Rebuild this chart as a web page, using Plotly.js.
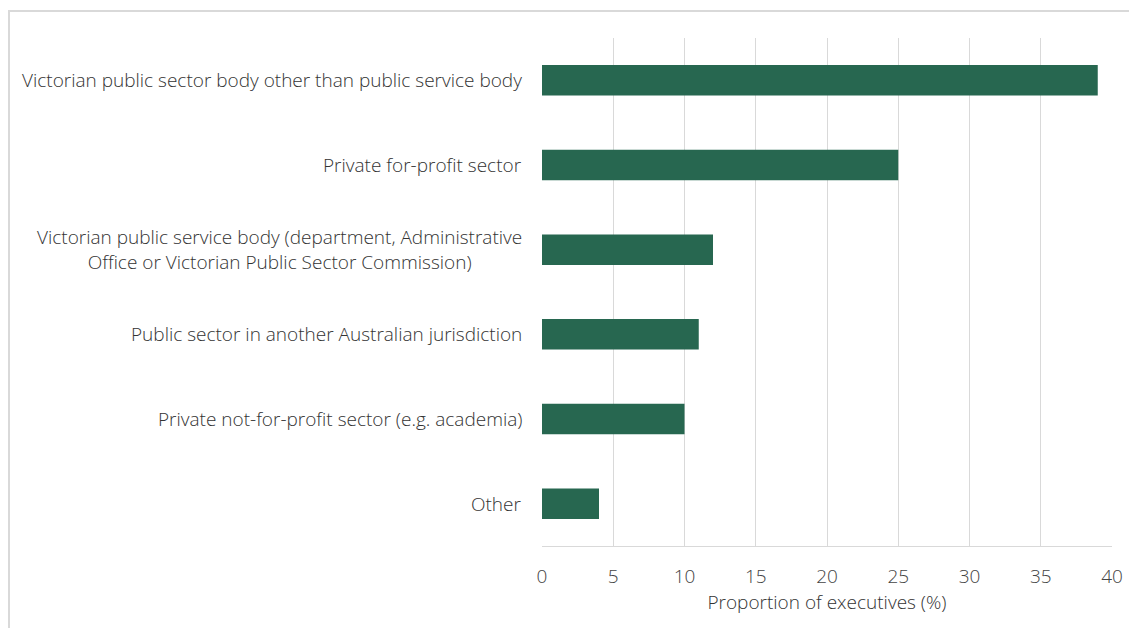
<!DOCTYPE html>
<html><head><meta charset="utf-8">
<script src="https://cdn.plot.ly/plotly-3.0.1.min.js"></script>
<style>
html,body{margin:0;padding:0;background:#fff;}
#wrap{position:relative;width:1129px;height:628px;overflow:hidden;}
#chart{position:absolute;left:0;top:0;width:1129px;height:628px;}
#frame{position:absolute;left:8px;top:10px;width:1140px;height:640px;border:2px solid #d9d9d9;box-sizing:border-box;pointer-events:none;}
</style></head>
<body>
<div id="wrap"><div id="chart"></div><div id="frame"></div></div>
<script>
const categories = [
  "Victorian public sector body other than public service body",
  "Private for-profit sector",
  "Victorian public service body (department, Administrative<br>Office or Victorian Public Sector Commission)",
  "Public sector in another Australian jurisdiction",
  "Private not-for-profit sector (e.g. academia)",
  "Other"
];
const values = [39, 25, 12, 11, 10, 4];
const xTickVals = [0,5,10,15,20,25,30,35,40];
const xTitle = "Proportion of executives (%)";

const FONT = "'Open Sans', sans-serif";
const trace = {
  type: 'bar', orientation: 'h',
  x: values, y: categories,
  marker: {color: '#276750', line: {width: 0}},
  hoverinfo: 'x+y'
};
const annotations = categories.map(c => ({
  x: 0, xref: 'paper', xanchor: 'right', xshift: -18,
  y: c, yref: 'y', yanchor: 'middle',
  text: c, showarrow: false, align: 'center',
  font: {family: FONT, size: 19, weight: 300, color: '#333333'}
}));
const layout = {
  width: 1129, height: 628,
  margin: {l: 542, r: 17, t: 38, b: 82},
  paper_bgcolor: 'rgba(0,0,0,0)', plot_bgcolor: '#fff',
  bargap: 0.64,
  showlegend: false,
  xaxis: {
    range: [0, 40], tickvals: xTickVals, ticktext: xTickVals.map(String),
    showgrid: true, gridcolor: '#d9d9d9', gridwidth: 1,
    zeroline: false, showline: true, linecolor: '#d9d9d9', linewidth: 1,
    ticks: '', ticklen: 0, ticklabelstandoff: 13,
    tickfont: {family: FONT, size: 19, weight: 300, color: '#444444'},
    title: {text: xTitle, standoff: 4, font: {family: FONT, size: 19, weight: 300, color: '#333333'}},
    fixedrange: true
  },
  yaxis: {
    categoryorder: 'array', categoryarray: categories,
    autorange: 'reversed',
    showticklabels: false, showgrid: false, zeroline: false, showline: false, ticks: '',
    fixedrange: true
  },
  annotations: annotations
};
Plotly.newPlot('chart', [trace], layout, {displayModeBar: false, staticPlot: true});
</script>
</body></html>
